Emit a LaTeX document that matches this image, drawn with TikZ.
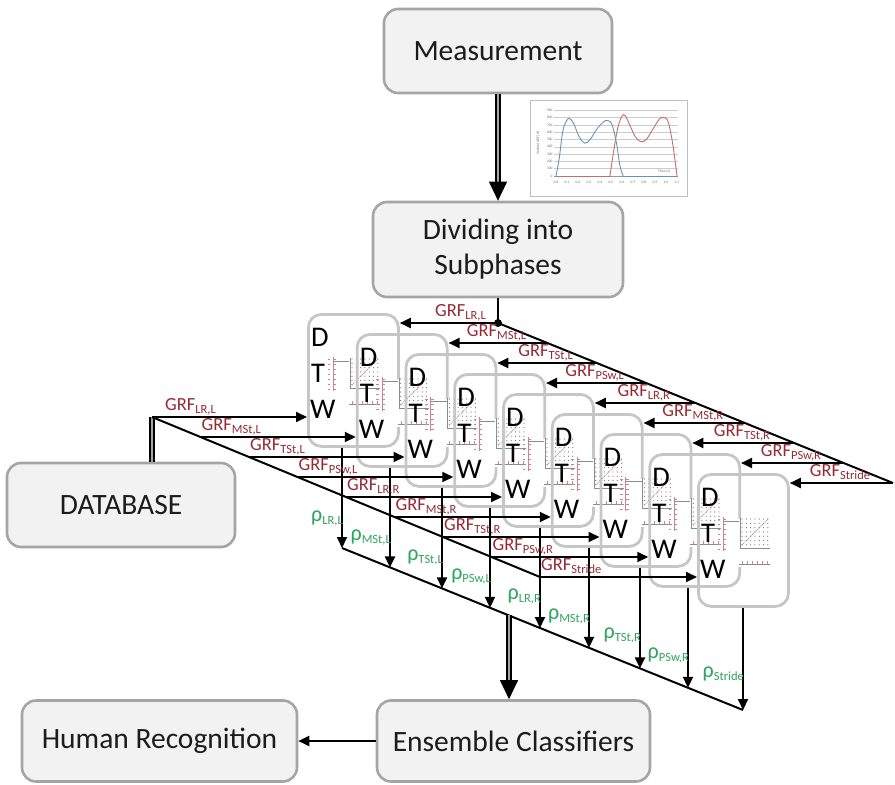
\documentclass[tikz,border=0pt]{standalone}
\usepackage{fontspec}
\setmainfont{Carlito}
\usetikzlibrary{arrows.meta,calc}

\definecolor{boxfill}{RGB}{242,242,242}
\definecolor{boxline}{RGB}{165,165,165}
\definecolor{dtwline}{RGB}{198,198,198}
\definecolor{grfred}{RGB}{150,42,52}
\definecolor{rhogreen}{RGB}{46,165,95}
\definecolor{inkpink}{RGB}{205,130,140}
\definecolor{curveblue}{RGB}{105,148,185}
\definecolor{curvered}{RGB}{198,110,110}
\definecolor{textdark}{RGB}{28,28,28}

% force and correlation symbols with lowered subscripts
\newcommand{\grfsym}[1]{{\fontsize{18.5}{18.5}\selectfont GRF}{\fontsize{12.5}{12.5}\selectfont\raisebox{-3.5pt}{#1}}}
\newcommand{\rhosym}[1]{{\fontsize{22}{22}\selectfont ρ}{\fontsize{12.5}{12.5}\selectfont\raisebox{-3pt}{#1}}}

\tikzset{
  stage/.style={draw=boxline, line width=2.6pt, fill=boxfill, rounded corners=14pt,
    text=textdark, font=\fontsize{29.5}{35}\selectfont, align=center, inner sep=0pt},
  dtwbox/.style={draw=dtwline, line width=2.8pt, rounded corners=13pt,
    minimum width=90pt, minimum height=132pt, inner sep=0pt, anchor=north west},
  dtwletter/.style={font=\fontsize{28.5}{28.5}\selectfont, anchor=west, inner sep=0pt},
  feed/.style={line width=2pt, -{Triangle[length=11pt,width=10pt]}},
  plain/.style={line width=2pt},
  trunk/.style={line width=1.6pt, double=black!35, double distance=2.6pt},
  bighead/.style={-{Triangle[length=19pt,width=18pt]}, line width=1pt},
  grflab/.style={text=grfred, inner sep=0pt},
  rholab/.style={text=rhogreen, inner sep=0pt, anchor=base east},
  ticklab/.style={font=\fontsize{3.6}{3.6}\selectfont, text=black!60, inner sep=0.3pt},
}

\begin{document}
\begin{tikzpicture}[x=1pt, y=-1pt]
\useasboundingbox (0,0) rectangle (895,785);

% ---------- process stages ----------
\node[stage, minimum width=228pt, minimum height=84pt] (meas) at (498,51) {Measurement};
\node[stage, minimum width=250pt, minimum height=95pt] (div) at (498,249.5) {Dividing into\\Subphases};
\node[stage, minimum width=228pt, minimum height=84pt] (db) at (121,505) {DATABASE};
\node[stage, minimum width=275pt, minimum height=81pt] (hum) at (159.5,741) {Human Recognition};
\node[stage, minimum width=273pt, minimum height=81pt] (ens) at (513.5,741) {Ensemble Classifiers};

% ---------- force-time chart beside the measurement step ----------
\draw[black!25, line width=0.6pt] (530,100) rectangle (687,196);
\foreach \n in {1,...,9}
  \draw[black!20, line width=0.5pt] (554,{176-7.3*\n}) -- (678,{176-7.3*\n});
\draw[black!40, line width=0.5pt] (554,176) -- (678,176);
\foreach \n in {0,...,9}
  \node[ticklab, anchor=east] at (553,{176-7.3*\n}) {\the\numexpr 100*\n\relax};
\foreach \i/\t in {0/0.0,1/0.1,2/0.2,3/0.3,4/0.4,5/0.5,6/0.6,7/0.7,8/0.8,9/0.9,10/1.0,11/1.1}
  \node[ticklab, anchor=north] at ({556+11*\i},181) {\t};
\node[ticklab] at (664,171) {Time [s]};
\node[ticklab, rotate=90] at (538,143) {Vertical GRF [N]};
\begin{scope}[shift={(556pt,-176pt)}, x=110pt, y=0.073pt]
  \draw[curvered, line width=0.9pt] (0,0) -- (0.49,0);
  \draw[curvered, line width=0.9pt] plot[smooth, tension=0.6] coordinates {
    (0.49,0) (0.52,300) (0.56,650) (0.6,820) (0.63,825) (0.67,700) (0.72,540)
    (0.77,470) (0.82,500) (0.88,640) (0.94,780) (0.98,800) (1.02,740)
    (1.06,450) (1.09,120) (1.1,0)};
  \draw[curveblue, line width=0.9pt] plot[smooth, tension=0.6] coordinates {
    (0,0) (0.03,250) (0.06,600) (0.09,740) (0.12,790) (0.16,720) (0.21,540)
    (0.26,450) (0.31,500) (0.37,640) (0.43,740) (0.47,760) (0.51,700)
    (0.55,450) (0.58,150) (0.61,0)};
  \draw[curveblue, line width=0.9pt] (0.61,0) -- (1.1,0);
\end{scope}

% ---------- nine DTW blocks ----------
\foreach \k in {0,...,8} {
  \pgfmathsetmacro{\bx}{307+48.75*\k}
  \pgfmathsetmacro{\by}{313+20*\k}
  \node[dtwbox] (dtw\k) at (\bx,\by) {};
  \begin{scope}[shift={(\bx,\by)}]
    % small warping chart
    \fill[white] (24,46) rectangle (75,94);
    \draw[inkpink, line width=0.5pt] (26,44) -- (26,78);
    \foreach \t in {46,51,...,76} {
      \draw[inkpink, line width=0.4pt] (26,\t) -- (29,\t);
      \draw[inkpink, line width=0.4pt] (20.5,\t) -- (23,\t);
    }
    \draw[black!45, line width=0.5pt] (26,48) -- (42,48);
    \foreach \i in {0,...,6}
      \foreach \j in {0,...,6}
        \fill[black!55] (45+4.3*\i, 46+4.3*\j) circle[radius=0.6pt];
    \draw[inkpink, line width=0.8pt, densely dotted] (45,72) -- (71,46);
    \draw[black!45, line width=0.5pt] (43,45) -- (43,75) -- (73,75);
    \draw[black!45, line width=0.5pt] (42,91) -- (73,91);
    \foreach \s in {45,50,...,70}
      \draw[inkpink, line width=0.4pt] (\s,91) -- (\s,88);
    % block letters
    \node[dtwletter] at (4,24) {D};
    \node[dtwletter] at (4,60) {T};
    \node[dtwletter] at (3,96) {W};
  \end{scope}
}

% ---------- measurement to subphases ----------
\draw[trunk] (meas.south) -- ([yshift=17pt]div.north);
\draw[bighead] ([yshift=19pt]div.north) -- (div.north);

% ---------- upper fan: subphase signals into the blocks ----------
\coordinate (hub) at (498,323);
\foreach \k in {0,...,8}
  \coordinate (u\k) at ({498+49.375*\k},{323+20*\k});
\draw[plain] (div.south) -- (hub);
\draw[plain] (u0) -- (u8);
\fill (hub) circle[radius=4pt];
\foreach \k in {0,...,8}
  \draw[feed] (u\k) -- (dtw\k.east |- u\k);

% ---------- lower fan: stored signals into the blocks ----------
\foreach \k in {0,...,8}
  \coordinate (l\k) at ({152+48.5*\k},{417+20*\k});
\draw[trunk] (l0 |- db.north) -- (l0);
\draw[plain] (l0) -- (l8);
\foreach \k in {0,...,8}
  \draw[feed] (l\k) -- (dtw\k.west |- l\k);

% ---------- correlation outputs ----------
\foreach \k/\x in {0/342,1/390,2/442,3/490,4/540,5/589,6/640,7/688,8/743}
  \coordinate (r\k) at (\x,{548+(\x-342)*0.404});
\draw[plain] (r0) -- (r8);
\foreach \k in {0,...,8}
  \draw[feed] (r\k |- dtw\k.south) -- (r\k);

\coordinate (ej) at (509,{548+(509-342)*0.404});
\coordinate (ejtip) at (ej |- ens.north);
\draw[trunk] (ej) -- ([yshift=17pt]ejtip);
\draw[bighead] ([yshift=19pt]ejtip) -- (ejtip);

\draw[feed] (ens.west) -- (hum.east);

% ---------- labels of the upper fan ----------
\foreach \k/\s/\x in {0/{LR,L}/460.5, 1/{MSt,L}/496.6, 2/{TSt,L}/545.6,
    3/{PSw,L}/594.7, 4/{LR,R}/643.7, 5/{MSt,R}/692.8, 6/{TSt,R}/741.9,
    7/{PSw,R}/790.9, 8/{Stride}/840}
  \node[grflab, anchor=base] at (\x,{316+20*\k}) {\grfsym{\s}};

% ---------- labels of the lower fan ----------
\foreach \k/\s/\x in {0/{LR,L}/165, 1/{MSt,L}/201.5, 2/{TSt,L}/250,
    3/{PSw,L}/298.5, 4/{LR,R}/347, 5/{MSt,R}/395.5, 6/{TSt,R}/444,
    7/{PSw,R}/492.5, 8/{Stride}/541}
  \node[grflab, anchor=base west] at (\x,{410+20*\k}) {\grfsym{\s}};

% ---------- correlation labels ----------
\foreach \k/\s/\x in {0/{LR,L}/342, 1/{MSt,L}/390, 2/{TSt,L}/442,
    3/{PSw,L}/490, 4/{LR,R}/540, 5/{MSt,R}/589, 6/{TSt,R}/640,
    7/{PSw,R}/688, 8/{Stride}/743}
  \node[rholab] at ({\x+1},{521+19.6*\k}) {\rhosym{\s}};

\end{tikzpicture}
\end{document}
